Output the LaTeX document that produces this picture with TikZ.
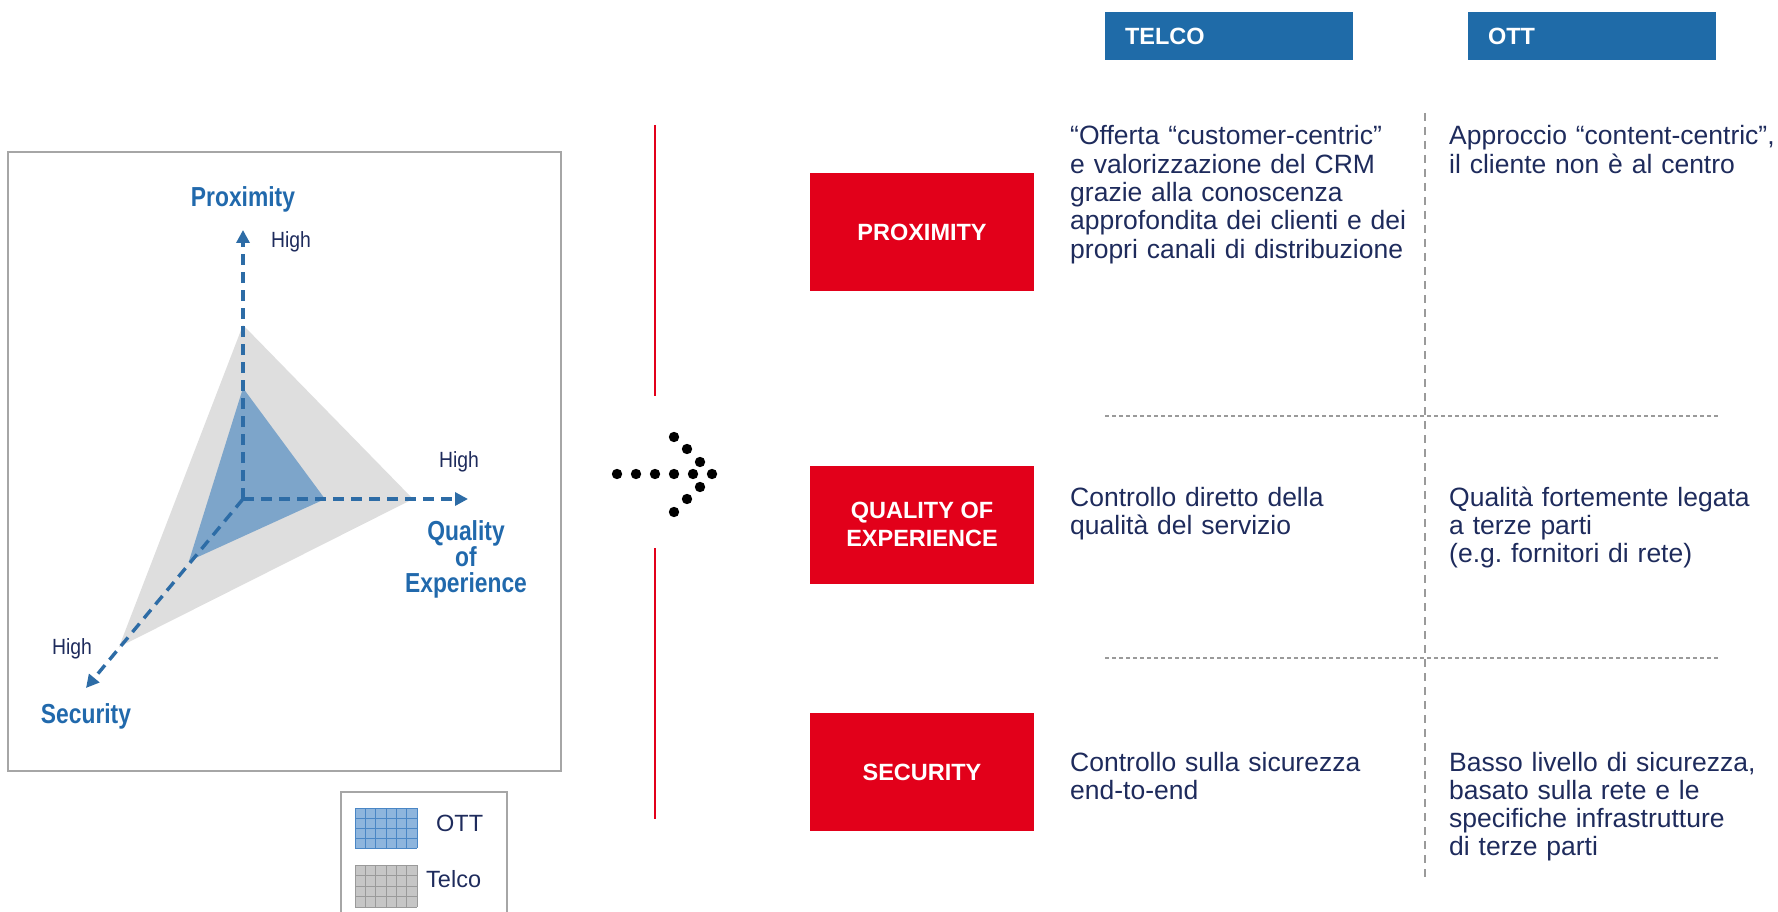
\documentclass[tikz,border=0pt]{standalone}
\usepackage{fontspec}
\setmainfont{Liberation Sans}
\newfontfamily\narrowfont[FakeStretch=0.83]{Liberation Sans}
\newfontfamily\highfont[FakeStretch=0.88]{Liberation Sans}
\usetikzlibrary{arrows.meta}
\frenchspacing
\definecolor{hdrblue}{HTML}{1F6BA8}
\definecolor{redbox}{HTML}{E2001A}
\definecolor{navy}{HTML}{1E2B5C}
\definecolor{lblue}{HTML}{2169AC}
\definecolor{axisblue}{HTML}{2D6CA6}
\definecolor{triGray}{HTML}{DEDEDE}
\definecolor{triBlue}{HTML}{7DA5CA}
\definecolor{frameGray}{HTML}{A6A6A6}
\definecolor{sepGray}{HTML}{9A9A9A}
\definecolor{ottFill}{HTML}{8EB5DD}
\definecolor{ottGrid}{HTML}{4A86C5}
\definecolor{telFill}{HTML}{C6C6C6}
\definecolor{telGrid}{HTML}{9A9A9A}
\tikzset{
  hdr/.style={fill=hdrblue, text=white, font=\bfseries\fontsize{23.5}{26}\selectfont,
    minimum height=48pt, text width=208pt, inner xsep=20pt, inner ysep=0pt, align=left},
  rowbox/.style={fill=redbox, text=white, font=\bfseries\fontsize{23.5}{28}\selectfont,
    minimum width=224pt, minimum height=118pt, align=center, inner sep=0pt},
  bodytxt/.style={text=navy, font=\fontsize{26.5}{28.3}\selectfont, align=left,
    anchor=base west, inner sep=0pt},
  axislbl/.style={text=lblue, font=\narrowfont\bfseries\fontsize{27.5}{25.5}\selectfont, align=center, inner sep=0pt},
  highlbl/.style={text=navy, font=\highfont\fontsize{22}{24}\selectfont, inner sep=0pt},
  axisline/.style={draw=axisblue, line width=3.4pt, dash pattern=on 11pt off 7pt,
    -{Triangle[length=13pt,width=13pt]}},
  redline/.style={draw=redbox, line width=2pt},
  dotc/.style={fill=black},
  legtxt/.style={text=navy, font=\fontsize{23.5}{26}\selectfont, anchor=west, inner sep=0pt}
}
\begin{document}
\begin{tikzpicture}[x=1pt,y=-1pt]
\useasboundingbox (0,0) rectangle (1778,912);

% ---------- left chart ----------
\draw[frameGray, line width=2pt] (8,152) rectangle (561,771);
\coordinate (O) at (243,499);
\coordinate (gT) at (243,325);
\coordinate (gR) at (413,499);
\coordinate (gL) at (119,647);
\coordinate (bT) at (243,388);
\coordinate (bR) at (325,499);
\coordinate (bL) at (189,561);
\fill[triGray] (gT) -- (gR) -- (gL) -- cycle;
\fill[triBlue] (bT) -- (bR) -- (bL) -- cycle;
\coordinate (pTip) at (243,230);
\coordinate (qTip) at (468,499);
\coordinate (sTip) at (86,688);
\draw[axisline] (O) -- (pTip);
\draw[axisline] (O) -- (qTip);
\draw[axisline] (O) -- (sTip);

\node[axislbl] (proxL) at (243,199) {Proximity};
\node[axislbl] (qoeL) at (466,559) {Quality\\of\\Experience};
\node[axislbl] (secL) at (86,716) {Security};
\node[highlbl] (hP) at (291,242) {High};
\node[highlbl] (hQ) at (459,462) {High};
\node[highlbl] (hS) at (72,649) {High};

% ---------- legend ----------
\draw[frameGray, line width=2pt] (341,930) -- (341,792) -- (507,792) -- (507,930);
\fill[ottFill] (355,808) rectangle (417,848);
\foreach \i in {0,...,6} \draw[ottGrid, line width=0.8pt] ({355+\i*10.33},808) -- ({355+\i*10.33},848);
\foreach \j in {0,...,4} \draw[ottGrid, line width=0.8pt] (355,{808+\j*10}) -- (417,{808+\j*10});
\fill[telFill] (355,865) rectangle (417,907);
\foreach \i in {0,...,6} \draw[telGrid, line width=0.8pt] ({355+\i*10.33},865) -- ({355+\i*10.33},907);
\foreach \j in {0,...,4} \draw[telGrid, line width=0.8pt] (355,{865+\j*10.5}) -- (417,{865+\j*10.5});
\node[legtxt] (lOTT) at (436,823) {OTT};
\node[legtxt] (lTel) at (426,879) {Telco};

% ---------- red separators & dotted arrow ----------
\draw[redline] (655,125) -- (655,396);
\draw[redline] (655,548) -- (655,819);
\foreach \x in {617,636,655,674,693,712} \fill[dotc] (\x,474) circle (5.2pt);
\foreach \p in {(674,437),(687,449),(700,462),(700,487),(687,499),(674,512)} \fill[dotc] \p circle (5.2pt);

% ---------- headers ----------
\node[hdr] (telco) at (1229,36) {TELCO};
\node[hdr] (ott) at (1592,36) {OTT};

% ---------- separators ----------
\draw[sepGray, line width=1.5pt, dash pattern=on 8pt off 6pt] (1425,113) -- (1425,882);
\draw[sepGray, line width=1.5pt, dash pattern=on 4pt off 3pt] (1105,416) -- (1718,416);
\draw[sepGray, line width=1.5pt, dash pattern=on 4pt off 3pt] (1105,658) -- (1718,658);

% ---------- row boxes ----------
\node[rowbox] (prox) at (922,232) {PROXIMITY};
\node[rowbox] (qoe) at (922,524.5) {QUALITY OF\\EXPERIENCE};
\node[rowbox] (sec) at (922,772) {SECURITY};

% ---------- texts ----------
\node[bodytxt, text width=345pt] (tP) at (1070,145) {“Offerta “customer-centric”\\e valorizzazione del CRM\\grazie alla conoscenza\\approfondita dei clienti e dei\\propri canali di distribuzione};
\node[bodytxt, text width=360pt] (oP) at (1449,145) {Approccio “content-centric”,\\il cliente non è al centro};
\node[bodytxt, text width=345pt] (tQ) at (1070,506) {Controllo diretto della\\qualità del servizio};
\node[bodytxt, text width=360pt] (oQ) at (1449,506) {Qualità fortemente legata\\a terze parti\\(e.g. fornitori di rete)};
\node[bodytxt, text width=345pt] (tS) at (1070,771) {Controllo sulla sicurezza\\end-to-end};
\node[bodytxt, text width=360pt] (oS) at (1449,771) {Basso livello di sicurezza,\\basato sulla rete e le\\specifiche infrastrutture\\di terze parti};
\end{tikzpicture}
\end{document}
